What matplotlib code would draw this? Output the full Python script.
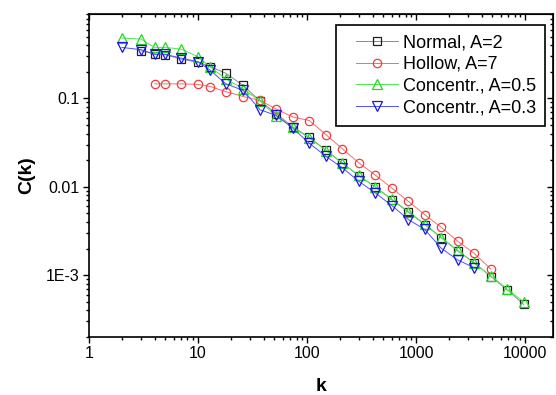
import matplotlib
matplotlib.use('Agg')
from matplotlib import pyplot as plt
from matplotlib.legend_handler import HandlerLine2D
from matplotlib.ticker import FixedLocator, FixedFormatter, LogLocator, NullFormatter

plt.rcParams['font.family'] = ['Liberation Sans', 'DejaVu Sans']

# data (log-binned degree k vs clustering C(k))
k_normal = [3, 4, 5, 7, 10, 13, 18, 26, 37, 52, 74, 105, 149, 211, 299, 424,
            600, 850, 1200, 1700, 2400, 3400, 4850, 6850, 9700]
c_normal = [0.346, 0.318, 0.312, 0.279, 0.256, 0.229, 0.192, 0.140, 0.0933,
            0.0673, 0.0476, 0.0362, 0.0260, 0.0185, 0.0133, 0.00993, 0.00715,
            0.00515, 0.00374, 0.00265, 0.00189, 0.00139, 0.000966, 0.000684,
            0.000467]

k_hollow = [4, 5, 7, 10, 13, 18, 26, 37, 52, 74, 105, 149, 211, 299, 424,
            600, 850, 1200, 1700, 2400, 3400, 4850]
c_hollow = [0.146, 0.146, 0.146, 0.144, 0.136, 0.119, 0.105, 0.095, 0.0756,
            0.0617, 0.0561, 0.0389, 0.0269, 0.0186, 0.0135, 0.00966, 0.00684,
            0.00484, 0.00348, 0.00243, 0.00177, 0.00117]

k_conc05 = [2, 3, 4, 5, 7, 10, 13, 18, 26, 37, 52, 74, 105, 149, 211, 299,
            424, 600, 850, 1200, 1700, 2400, 3400, 4850, 6850, 9700]
c_conc05 = [0.481, 0.469, 0.377, 0.377, 0.361, 0.296, 0.225, 0.166, 0.128,
            0.0933, 0.0628, 0.0472, 0.0356, 0.0257, 0.0184, 0.0135, 0.00986,
            0.00724, 0.00524, 0.00379, 0.00267, 0.00191, 0.00136, 0.000986,
            0.000697, 0.000498]

k_conc03 = [2, 3, 4, 5, 7, 10, 13, 18, 26, 37, 52, 74, 105, 149, 211, 299,
            424, 600, 850, 1200, 1700, 2400, 3400]
c_conc03 = [0.377, 0.356, 0.315, 0.315, 0.285, 0.260, 0.207, 0.146, 0.123,
            0.0743, 0.0644, 0.0460, 0.0310, 0.0221, 0.0164, 0.0115, 0.00850,
            0.00612, 0.00426, 0.00329, 0.00202, 0.00149, 0.00122]

x_ticks = [1, 10, 100, 1000, 10000]
x_tick_labels = ['1', '10', '100', '1000', '10000']
y_ticks = [1e-3, 1e-2, 1e-1]
y_tick_labels = ['1E-3', '0.01', '0.1']


class PaddedLineHandler(HandlerLine2D):
    # leaves a blank gap on the left of each legend handle
    def create_artists(self, legend, orig_handle, xdescent, ydescent,
                       width, height, fontsize, trans):
        pad = 0.6 * fontsize
        return super().create_artists(legend, orig_handle, xdescent - pad,
                                      ydescent, width - pad, height,
                                      fontsize, trans)


fig = plt.figure(figsize=(5.56, 3.95), dpi=100)
ax = fig.add_axes([0.1601, 0.1468, 0.8345, 0.8177])

line_kw = dict(linewidth=0.7, markerfacecolor='none', markeredgewidth=0.9)
ax.plot(k_normal, c_normal, color='#8a8a8a', marker='s', markersize=5.6,
        markeredgecolor='#202020', label='Normal, A=2', **line_kw)
ax.plot(k_hollow, c_hollow, color='#ff6a6a', marker='o', markersize=6,
        markeredgecolor='#f03c3c', label='Hollow, A=7', **line_kw)
ax.plot(k_conc05, c_conc05, color='#50e850', marker='^', markersize=6.8,
        markeredgecolor='#22d822', label='Concentr., A=0.5', **line_kw)
ax.plot(k_conc03, c_conc03, color='#5050ff', marker='v', markersize=6.8,
        markeredgecolor='#1818e0', label='Concentr., A=0.3', **line_kw)

ax.set_xscale('log')
ax.set_yscale('log')
ax.set_xlim(1, 18000)
ax.set_ylim(2e-4, 0.9)

ax.xaxis.set_major_locator(FixedLocator(x_ticks))
ax.xaxis.set_major_formatter(FixedFormatter(x_tick_labels))
ax.xaxis.set_minor_locator(LogLocator(subs=range(2, 10), numticks=20))
ax.xaxis.set_minor_formatter(NullFormatter())
ax.yaxis.set_major_locator(FixedLocator(y_ticks))
ax.yaxis.set_major_formatter(FixedFormatter(y_tick_labels))
ax.yaxis.set_minor_locator(LogLocator(subs=range(2, 10), numticks=20))
ax.yaxis.set_minor_formatter(NullFormatter())

ax.tick_params(which='both', direction='out', labelsize=11.5, width=1)
ax.tick_params(which='major', length=4.5, pad=2)
ax.tick_params(which='minor', length=2.5)
for sp in ax.spines.values():
    sp.set_linewidth(1.2)

# top / right: ticks pointing inward, no labels
top = ax.secondary_xaxis('top', functions=(lambda x: x, lambda x: x))
top.xaxis.set_major_locator(FixedLocator(x_ticks))
top.xaxis.set_minor_locator(LogLocator(subs=range(2, 10), numticks=20))
top.xaxis.set_major_formatter(NullFormatter())
top.xaxis.set_minor_formatter(NullFormatter())
top.tick_params(which='both', direction='in', width=1)
top.tick_params(which='major', length=4.5)
top.tick_params(which='minor', length=2.5)

right = ax.secondary_yaxis('right', functions=(lambda y: y, lambda y: y))
right.yaxis.set_major_locator(FixedLocator(y_ticks))
right.yaxis.set_minor_locator(LogLocator(subs=range(2, 10), numticks=20))
right.yaxis.set_major_formatter(NullFormatter())
right.yaxis.set_minor_formatter(NullFormatter())
right.tick_params(which='both', direction='in', width=1)
right.tick_params(which='major', length=4.5)
right.tick_params(which='minor', length=2.5)

ax.set_xlabel('k', fontsize=14, fontweight='bold', labelpad=12)
ax.set_ylabel('C(k)', fontsize=14, fontweight='bold', labelpad=8)

leg = ax.legend(loc='upper right', bbox_to_anchor=(0.983, 0.966),
                borderaxespad=0, fontsize=13, frameon=True, fancybox=False,
                framealpha=1, edgecolor='black', labelspacing=0.27,
                handlelength=2.95, handletextpad=0.25, borderpad=0.5,
                handler_map={plt.Line2D: PaddedLineHandler()})
leg.get_frame().set_linewidth(1.2)

fig.savefig('out.png', dpi=100)
